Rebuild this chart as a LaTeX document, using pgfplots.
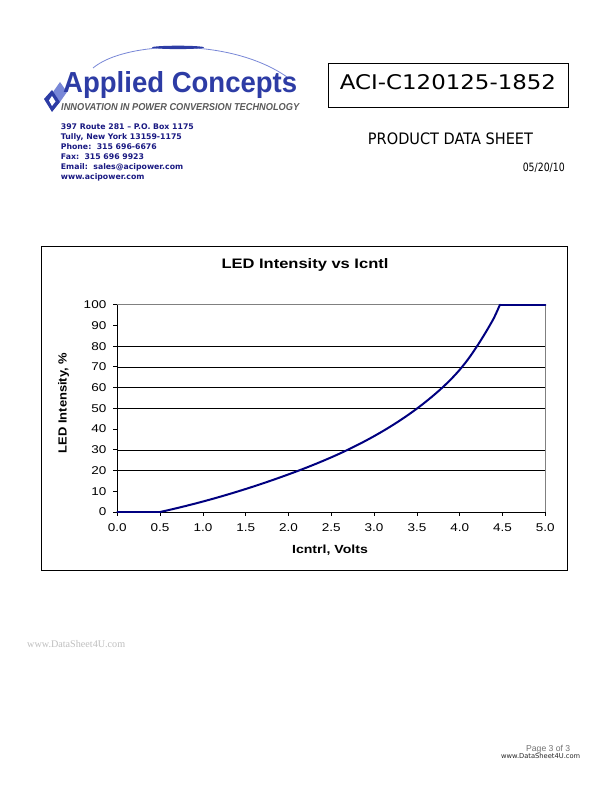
\documentclass[border=0pt]{standalone}
\usepackage{pgfplots}
\pgfplotsset{compat=1.18}
\usepackage{fontspec}
\setmainfont{Liberation Sans}
\newfontfamily\dejavu[Ligatures=TeX]{DejaVu Sans}
\newfontfamily\lserif{Liberation Serif}
\definecolor{navyc}{RGB}{0,0,128}
\definecolor{addr}{RGB}{25,25,130}
\definecolor{logoblue}{RGB}{45,60,165}
\definecolor{logolight}{RGB}{120,135,215}
\newcommand\sx[1]{\scalebox{1.2}[1]{#1}}
\begin{document}
\begin{tikzpicture}
\path[use as bounding box, fill=white] (0,0) rectangle (612bp,792bp);
\begin{scope}[x=1bp,y=1bp]
% logo
\draw[color=logolight, line width=0.8] (93,724) .. controls (125,751) and (230,755) .. (287,715);
\fill[logoblue] (178,744.6) ellipse (26 and 1.7);
\fill[logolight] (53,700) -- (60,710) -- (67,700) -- (60,690) -- cycle;
\fill[logoblue] (44,693) -- (52,702) -- (60,690) -- (52,680) -- cycle;
\fill[white] (49,691.5) -- (52,696) -- (55.5,690.5) -- (52,686) -- cycle;
\node[anchor=base west, inner sep=0, text=logoblue] at (63,699) {\resizebox{234bp}{21bp}{\bfseries Applied Concepts}};
\node[anchor=base west, inner sep=0, text={rgb,255:red,90;green,90;blue,90}] at (61,681.3) {\resizebox{238bp}{7bp}{\bfseries\itshape INNOVATION IN POWER CONVERSION TECHNOLOGY}};
% address
\foreach \t [count=\i from 0] in {397 Route 281 – P.O. Box 1175, {Tully, New York 13159-1175}, Phone:\ \ 315 696-6676, Fax:\ \ 315 696 9923, Email:\ \ sales@acipower.com, www.acipower.com}
  \node[anchor=base west, inner sep=0, text=addr] at (60.7,662-10*\i) {\dejavu\bfseries\fontsize{7.8}{9}\selectfont \t};
% part number box
\draw[line width=0.8] (328,685) rectangle (568,729);
\node[anchor=base, inner sep=0] at (448,702) {\resizebox{216bp}{15bp}{\dejavu ACI-C120125-1852}};
\node[anchor=base, inner sep=0] at (450.5,647) {\resizebox{165bp}{11.7bp}{\dejavu PRODUCT DATA SHEET}};
\node[anchor=base east, inner sep=0] at (565,620) {\resizebox{42bp}{8.5bp}{\dejavu 05/20/10}};
% chart frame and labels
\draw[line width=0.8] (41,222) rectangle (567,546);
\node[anchor=base, inner sep=0] at (305,523.5) {\sx{\fontsize{13.8}{15}\selectfont\bfseries LED Intensity vs Icntl}};
\node[anchor=base, inner sep=0] at (330,238.7) {\sx{\fontsize{11.8}{13}\selectfont\bfseries Icntrl, Volts}};
\node[rotate=90, anchor=base, inner sep=0] at (66.7,389) {\scalebox{1.1}[1]{\fontsize{11.8}{13}\selectfont\bfseries LED Intensity, \%}};
% footer
\node[anchor=west, inner sep=0, text=black!25] at (27,148) {\resizebox{98bp}{!}{\lserif www.DataSheet4U.com}};
\node[anchor=west, inner sep=0, text=black!55] at (526,43) {\resizebox{44bp}{!}{Page 3 of 3}};
\node[anchor=west, inner sep=0, text=black!85] at (501,36) {\resizebox{79bp}{!}{\dejavu www.DataSheet4U.com}};
\end{scope}
\begin{axis}[at={(117.3bp,280bp)}, anchor=south west, scale only axis,
  width=428bp, height=207.3bp,
  xmin=0, xmax=5, ymin=0, ymax=100,
  axis lines=left, axis line style={-, black, line width=0.8bp},
  xtick={0,0.5,...,5}, ytick={0,10,...,100},
  tick align=outside, major tick length=4bp,
  tick style={black, line width=0.8bp},
  /pgf/number format/assume math mode=true,
  xticklabel={\sx{\pgfmathprintnumber[fixed,fixed zerofill,precision=1]{\tick}}},
  yticklabel={\sx{\pgfmathprintnumber[fixed,precision=0]{\tick}}},
  tick label style={font=\fontsize{11.3}{13}\selectfont, black},
  xticklabel style={yshift=-4.5bp},
  yticklabel style={xshift=-3.5bp},
  extra y ticks={20,30,50,60,70,80}, extra y tick labels={},
  extra y tick style={ymajorgrids=true, major tick length=0pt},
  major grid style={black, line width=0.6bp},
  clip=false]
\draw[gray, line width=0.6bp] (rel axis cs:0,1) -- (rel axis cs:1,1) -- (rel axis cs:1,0);
\addplot[navyc, line width=2bp, line cap=round] coordinates {(0,0) (0.5,0)};
\addplot[navyc, line width=2bp, line cap=round] coordinates {(4.47,100) (5.0,100)};
\addplot[navyc, line width=2bp, line cap=round, smooth, tension=0.5] coordinates {
(0.5,0) (0.6,0.93) (0.7,1.90) (0.8,2.91) (0.9,3.96) (1.0,5.05) (1.1,6.18)
(1.2,7.35) (1.3,8.56) (1.4,9.81) (1.5,11.10) (1.6,12.43) (1.7,13.80) (1.8,15.21)
(1.9,16.66) (2.0,18.15) (2.1,19.68) (2.2,21.26) (2.3,22.90) (2.4,24.60) (2.5,26.37)
(2.6,28.22) (2.7,30.16) (2.8,32.20) (2.9,34.34) (3.0,36.59) (3.1,38.96) (3.2,41.46)
(3.3,44.10) (3.4,46.90) (3.5,49.88) (3.6,53.06) (3.7,56.46) (3.8,60.11) (3.9,64.11)
(4.0,68.61) (4.1,73.81) (4.2,79.81) (4.3,86.41) (4.4,93.61) (4.47,100)
};
\end{axis}
\end{tikzpicture}
\end{document}
